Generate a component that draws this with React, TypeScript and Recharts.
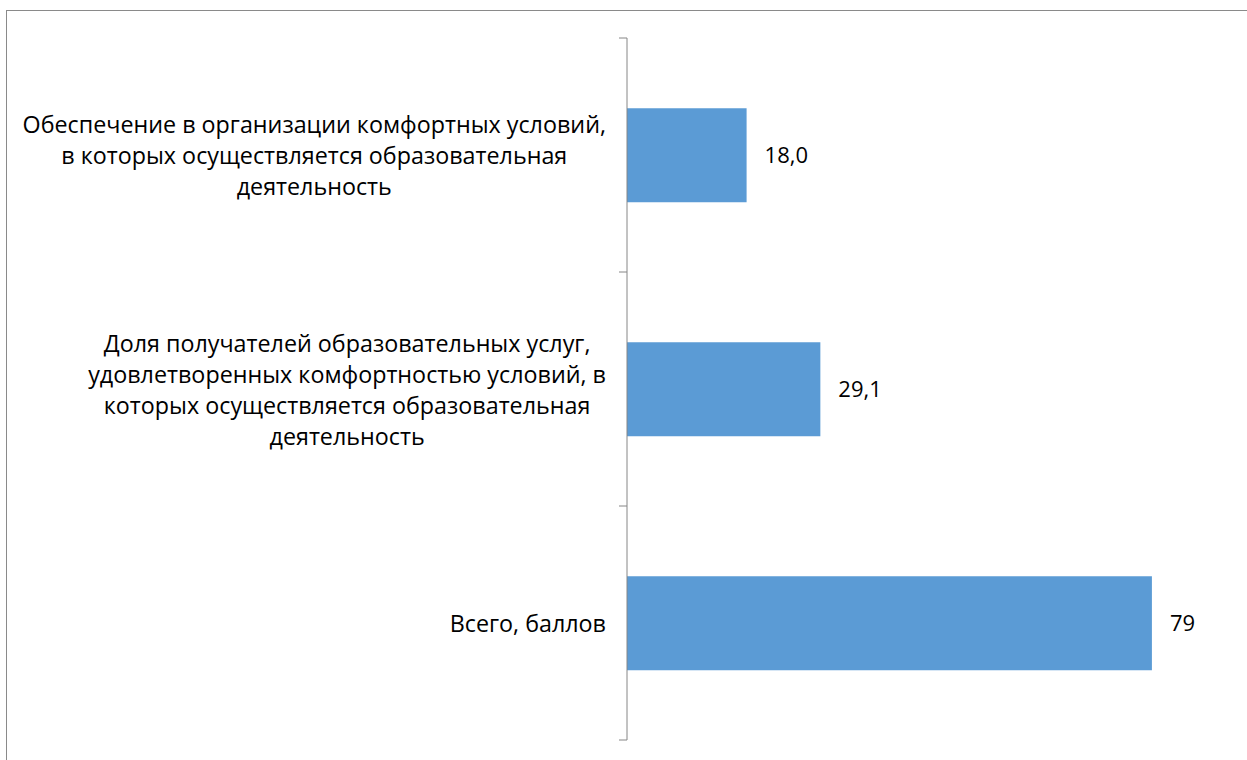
import { BarChart, Bar, XAxis, YAxis, LabelList } from "recharts";

// Category labels (line breaks as in the original chart)
const categories = [
  "Обеспечение в организации комфортных условий,\nв которых осуществляется образовательная\nдеятельность",
  "Доля получателей образовательных услуг,\nудовлетворенных комфортностью условий, в\nкоторых осуществляется образовательная\nдеятельность",
  "Всего, баллов",
];
const values = [18.0, 29.1, 79];
const valueLabels = ["18,0", "29,1", "79"];
const xDomain: [number, number] = [0, 90];

const data = categories.map((name, i) => ({ name, value: values[i], label: valueLabels[i] }));

const W = 1247;
const H = 760;
const MARGIN = { top: 38, right: 22, bottom: 20, left: 0 };
const AXIS_W = 627;
const BAND = (H - MARGIN.top - MARGIN.bottom) / categories.length;
const FONT = "'Open Sans', sans-serif";
const FS = 23.3;
const VALUE_FS = 22;
const LINE_H = 31;
const LABEL_GAP = 21;
const AXIS_COLOR = "#868686";

let ctx: CanvasRenderingContext2D | null = null;
function measure(text: string) {
  if (!ctx) ctx = document.createElement("canvas").getContext("2d");
  if (!ctx) return text.length * FS * 0.5;
  ctx.font = `${FS}px ${FONT}`;
  return ctx.measureText(text).width;
}

function CategoryTick(props: any) {
  const { x, y, payload, index } = props;
  const lines = String(payload.value).split("\n");
  const maxW = Math.max(...lines.map(measure));
  const cx = x - LABEL_GAP - maxW / 2;
  const y0 = y - ((lines.length - 1) * LINE_H) / 2;
  return (
    <g>
      <line x1={x - 8} x2={x} y1={y - BAND / 2} y2={y - BAND / 2} stroke={AXIS_COLOR} />
      {index === categories.length - 1 && (
        <line x1={x - 8} x2={x} y1={y + BAND / 2} y2={y + BAND / 2} stroke={AXIS_COLOR} />
      )}
      {lines.map((l, i) => (
        <text
          key={i}
          x={cx}
          y={y0 + i * LINE_H}
          textAnchor="middle"
          dominantBaseline="central"
          fontFamily={FONT}
          fontSize={FS}
          fill="#000"
        >
          {l}
        </text>
      ))}
    </g>
  );
}

export default function App() {
  return (
    <div
      style={{
        position: "absolute",
        left: 0,
        top: 0,
        width: W,
        height: H,
        overflow: "hidden",
        background: "#fff",
      }}
    >
      <div
        style={{
          position: "absolute",
          left: 6,
          top: 10,
          width: 1400,
          height: 900,
          border: "1px solid #8a8a8a",
        }}
      />
      <div style={{ position: "absolute", left: 0, top: 0 }}>
        <BarChart width={W} height={H} data={data} layout="vertical" margin={MARGIN} barCategoryGap="30%">
          <XAxis type="number" domain={xDomain} hide />
          <YAxis
            type="category"
            dataKey="name"
            width={AXIS_W}
            axisLine={{ stroke: AXIS_COLOR }}
            tickLine={false}
            tickSize={0}
            tickMargin={0}
            tick={<CategoryTick />}
            interval={0}
          />
          <Bar dataKey="value" fill="#5B9BD5" isAnimationActive={false}>
            <LabelList
              dataKey="label"
              position="right"
              offset={18}
              fill="#000"
              fontSize={VALUE_FS}
              fontFamily={FONT}
            />
          </Bar>
        </BarChart>
      </div>
    </div>
  );
}
